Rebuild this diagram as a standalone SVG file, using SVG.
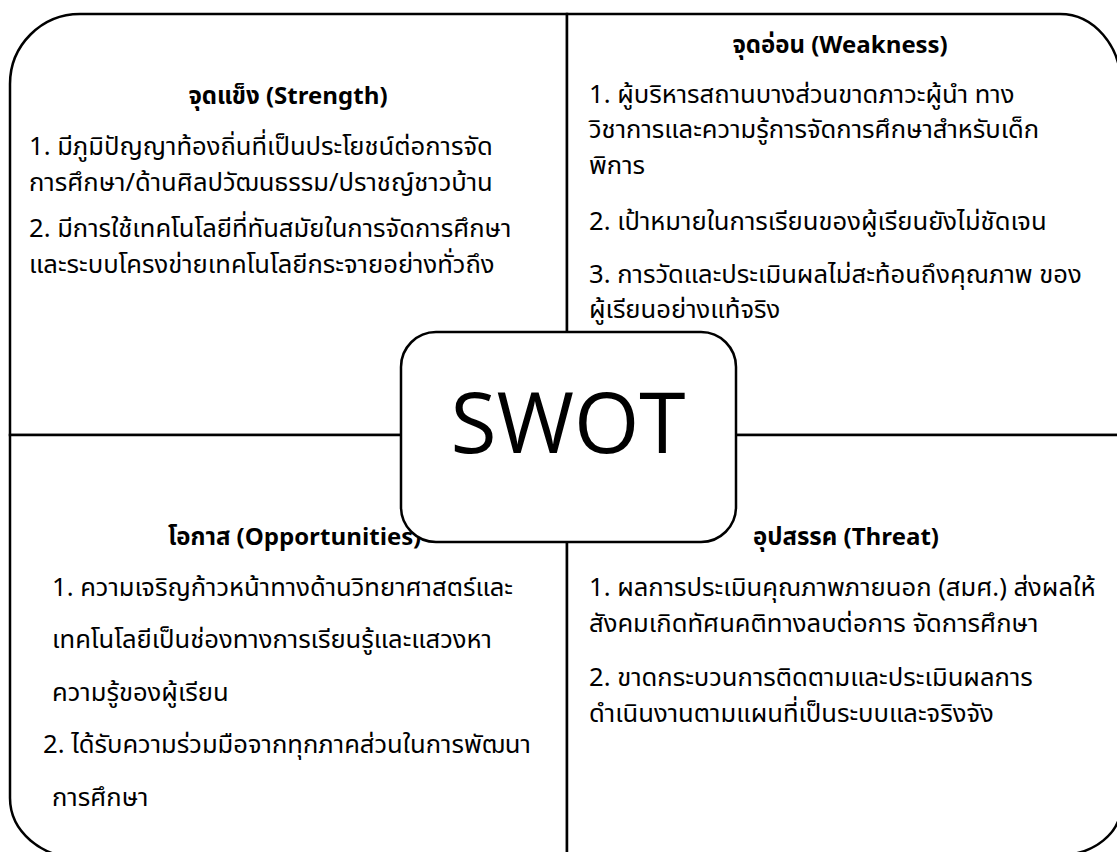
<svg xmlns="http://www.w3.org/2000/svg" width="1117" height="852" viewBox="0 0 1117 852">
<style>
.q{fill:#fff;stroke:#000;stroke-width:2.5}
.t{font-family:"Noto Sans Thai","Noto Sans","Open Sans",sans-serif;font-size:25.6px;fill:#000}
.h{font-size:24px;font-weight:bold;text-anchor:middle}
.swot{font-family:"Open Sans","Noto Sans",sans-serif;font-size:84px;text-anchor:middle;fill:#000}
</style>
<rect width="1117" height="852" fill="#fff"/>
<g id="strength">
<path class="q" d="M567,435 H10 V84 A70,70 0 0 1 80,14 H567 Z"/>
<text class="t h" x="288" y="104">จุดแข็ง (Strength)</text>
<text class="t" x="29" y="155">1. มีภูมิปัญญาท้องถิ่นที่เป็นประโยชน์ต่อการจัด</text>
<text class="t" x="29" y="191">การศึกษา/ด้านศิลปวัฒนธรรม/ปราชญ์ชาวบ้าน</text>
<text class="t" x="29" y="237">2. มีการใช้เทคโนโลยีที่ทันสมัยในการจัดการศึกษา</text>
<text class="t" x="29" y="273">และระบบโครงข่ายเทคโนโลยีกระจายอย่างทั่วถึง</text>
</g>
<g id="weakness">
<path class="q" d="M567,14 H1060 A61,71 0 0 1 1121,85 V435 H567 Z"/>
<text class="t h" x="840" y="53">จุดอ่อน (Weakness)</text>
<text class="t" x="589" y="103">1. ผู้บริหารสถานบางส่วนขาดภาวะผู้นำ ทาง</text>
<text class="t" x="589" y="138">วิชาการและความรู้การจัดการศึกษาสำหรับเด็ก</text>
<text class="t" x="589" y="174">พิการ</text>
<text class="t" x="589" y="230">2. เป้าหมายในการเรียนของผู้เรียนยังไม่ชัดเจน</text>
<text class="t" x="589" y="283">3. การวัดและประเมินผลไม่สะท้อนถึงคุณภาพ ของ</text>
<text class="t" x="589" y="318">ผู้เรียนอย่างแท้จริง</text>
</g>
<g id="opportunities">
<path class="q" d="M567,435 V858 H80 A70,60 0 0 1 10,798 V435 Z"/>
<text class="t" style="font-size:24px;font-weight:bold" x="168" y="545">โอกาส (Opportunities)</text>
<text class="t" x="52" y="596">1. ความเจริญก้าวหน้าทางด้านวิทยาศาสตร์และ</text>
<text class="t" x="52" y="648">เทคโนโลยีเป็นช่องทางการเรียนรู้และแสวงหา</text>
<text class="t" x="52" y="701">ความรู้ของผู้เรียน</text>
<text class="t" x="43" y="753">2. ได้รับความร่วมมือจากทุกภาคส่วนในการพัฒนา</text>
<text class="t" x="52" y="806">การศึกษา</text>
</g>
<g id="threat">
<path class="q" d="M567,435 H1121 V806 A61,49 0 0 1 1060,855 H567 Z"/>
<text class="t h" x="846" y="545">อุปสรรค (Threat)</text>
<text class="t" x="589" y="596">1. ผลการประเมินคุณภาพภายนอก (สมศ.) ส่งผลให้</text>
<text class="t" x="589" y="632">สังคมเกิดทัศนคติทางลบต่อการ จัดการศึกษา</text>
<text class="t" x="589" y="686">2. ขาดกระบวนการติดตามและประเมินผลการ</text>
<text class="t" x="589" y="722">ดำเนินงานตามแผนที่เป็นระบบและจริงจัง</text>
</g>
<g id="connectors"></g>
<g id="swot">
<rect class="q" x="401" y="332" width="335" height="210" rx="35" ry="35"/>
<text class="swot" x="568" y="453">SWOT</text>
</g>
</svg>
